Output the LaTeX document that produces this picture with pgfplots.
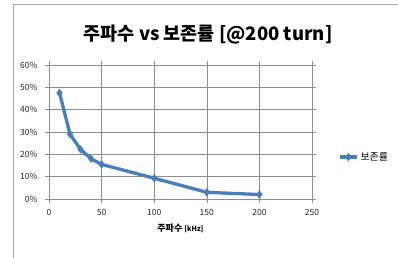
\documentclass[border=0pt]{standalone}
\usepackage{pgfplots}
\pgfplotsset{compat=1.18}
\usepackage{fontspec}
\setmainfont{Noto Sans CJK KR}
\definecolor{serblue}{HTML}{4A7EBB}
\definecolor{gridgray}{HTML}{8C8C8C}
\begin{document}
\begin{tikzpicture}
\useasboundingbox (-49bp,-59bp) rectangle (349bp,199bp);
\draw[gray!70, line width=0.8bp] (-36bp,-60bp) -- (-36bp,195bp) -- (350bp,195bp);
\begin{axis}[
  at={(0,0)}, anchor=origin,
  scale only axis, width=263bp, height=134bp,
  xmin=0, xmax=250, ymin=0, ymax=60,
  xtick={0,50,...,250}, ytick={0,10,...,60},
  yticklabel={\pgfmathprintnumber{\tick}\%},
  /pgf/number format/assume math mode=true,
  tick label style={font=\fontsize{8.5bp}{9bp}\selectfont, text=black!85},
  grid=major, major grid style={gridgray, line width=0.6bp},
  axis line style={gridgray, line width=0.6bp},
  tick style={gridgray, line width=0.6bp},
  tick align=outside, major tick length=4bp,
  xticklabel style={yshift=-3bp},
  yticklabel style={xshift=-4bp},
  xlabel={\bfseries 주파수 \fontsize{7bp}{8bp}\selectfont[kHz]},
  xlabel style={font=\fontsize{9bp}{10bp}\selectfont, yshift=-1bp},
  title={\bfseries 주파수 vs 보존률 [@200 turn]},
  title style={font=\fontsize{18.5bp}{21bp}\selectfont, at={(0.605,1.18)}, anchor=center},
  legend style={at={(1.099,0.313)}, anchor=west, draw=none, fill=none, font=\fontsize{10bp}{11bp}\selectfont, inner sep=0pt},
  legend cell align=left,
  legend image post style={line width=3.3bp},
]
\addplot[serblue, line width=3.3bp, mark=diamond*, mark size=3.8bp, mark options={fill=serblue, line width=0.5bp}]
  coordinates {(10,47.5) (20,29) (30,22.2) (40,18) (50,15.5) (100,9.3) (150,3) (200,2)};
\addlegendentry{보존률}
\end{axis}
\end{tikzpicture}
\end{document}
